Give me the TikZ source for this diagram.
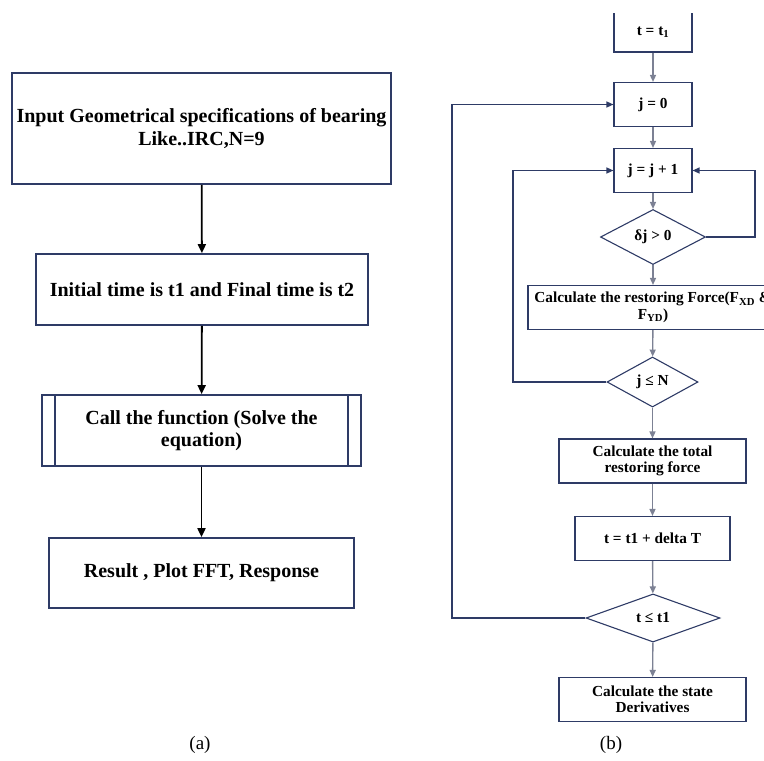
\documentclass[tikz,border=0pt]{standalone}
\usepackage{fontspec}
\setmainfont{Liberation Serif}
\usetikzlibrary{arrows.meta,positioning,shapes.geometric}
\definecolor{azul}{HTML}{2E3B66}
\definecolor{gris}{HTML}{7C8194}

\begin{document}
\begin{tikzpicture}[x=1pt,y=-1pt,
  caja/.style={draw=azul,line width=1.7pt,align=center,inner sep=2pt,font=\fontsize{20}{22.5}\selectfont\bfseries},
  cajab/.style={draw=azul,line width=1.1pt,align=center,inner sep=1pt,minimum height=44pt,font=\fontsize{15.3}{16.5}\selectfont\bfseries},
  rombo/.style={diamond,draw=azul,line width=1.1pt,inner sep=1pt,font=\fontsize{15.3}{16.5}\selectfont\bfseries},
  flecha/.style={line width=1.8pt,-{Triangle[length=9pt,width=8pt]}},
  flechab/.style={gris,line width=1.4pt,-{Triangle[length=7pt,width=6pt]}},
  lazo/.style={azul,line width=1.2pt,-{Triangle[length=7pt,width=6pt]}},
  rotulo/.style={font=\fontsize{19}{22}\selectfont}]
        \useasboundingbox (0,0) rectangle (764,761);
        \clip (0,13) rectangle (764,761);
        % (a)
        \node[caja,minimum width=379pt,minimum height=111pt] (inp) at (201.5,128.5) {Input Geometrical specifications of bearing\\Like..IRC,N=9};
        \node[caja,minimum width=332pt,minimum height=71pt] (ini) at (202,289.5) {Initial time is t1 and Final time is t2};
        \node[caja,minimum width=319pt,minimum height=71pt] (call) at (201.5,430.5) {Call the function (Solve the\\equation)};
        \draw[azul,line width=1.7pt] ([xshift=14pt]call.north west) -- ([xshift=14pt]call.south west);
        \draw[azul,line width=1.7pt] ([xshift=-14pt]call.north east) -- ([xshift=-14pt]call.south east);
        \node[caja,minimum width=305pt,minimum height=70pt] (res) at (201.5,573) {Result , Plot FFT, Response};
        \draw[flecha] (inp) -- (ini);
        \draw[flecha] (ini) -- (call);
        \draw[flecha] (call) -- (res);
        \node[rotulo] (la) at (200,745) {(a)};
        % (b)
        \node[cajab,minimum width=78pt,minimum height=40pt] (tt) at (653,32) {t = t\textsubscript{1}};
        \node[cajab,minimum width=78pt] (j0) at (653,104.5) {j = 0};
        \node[cajab,minimum width=78pt] (jj) at (653,170.5) {j = j + 1};
        \node[rombo,minimum width=105pt,minimum height=43pt] (d1) at (653,237) {δj > 0};
        \node[cajab,minimum width=250pt] (rf) at (653,307.5) {Calculate the restoring Force(F\textsubscript{XD} \&\\F\textsubscript{YD})};
        \node[rombo,minimum width=91pt,minimum height=42pt] (d2) at (652.5,382) {j ≤ N};
        \node[cajab,minimum width=187pt] (tot) at (652.5,461) {Calculate the total\\restoring force};
        \node[cajab,minimum width=155pt] (dt) at (652.5,538.5) {t = t1 + delta T};
        \node[rombo,minimum width=134pt,minimum height=42pt] (d3) at (653,618) {t ≤ t1};
        \node[cajab,minimum width=187pt] (st) at (652.5,699.5) {Calculate the state\\Derivatives};
        \node[rotulo] (lb) at (611,745) {(b)};
        \draw[flechab] (tt) -- (j0);
        \draw[flechab] (j0) -- (jj);
        \draw[flechab] (jj) -- (d1);
        \draw[flechab] (d1) -- (rf);
        \draw[flechab] (rf) -- (d2);
        \draw[flechab] (d2) -- (tot);
        \draw[flechab] (tot) -- (dt);
        \draw[flechab] (dt) -- (d3);
        \draw[flechab] (d3) -- (st);
        \coordinate (r1) at (755,170.5);
        \coordinate (l1) at (513,170.5);
        \coordinate (l0) at (452,104.5);
        \draw[lazo] (d1.east) -| (r1) -- (jj.east);
        \draw[lazo] (d2.west) -| (l1) -- (jj.west);
        \draw[lazo] (d3.west) -| (l0) -- (j0.west);
      \end{tikzpicture}
\end{document}
